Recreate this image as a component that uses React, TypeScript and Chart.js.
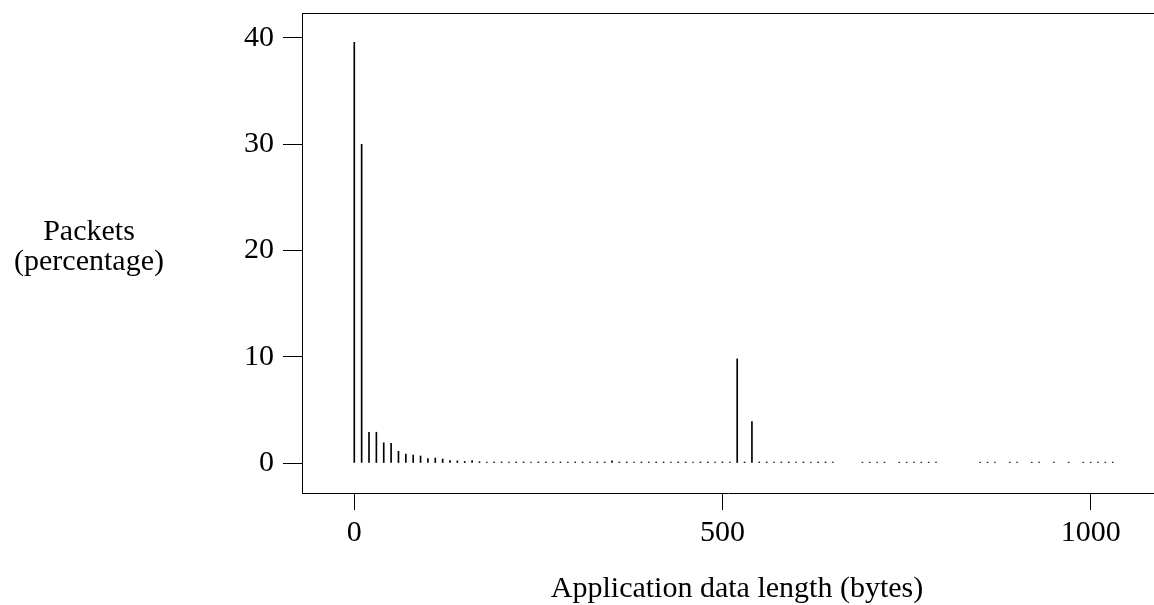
import React, { useEffect, useRef } from "react";
import { Chart, registerables } from "chart.js";

Chart.register(...registerables);

const FONT = "'Liberation Serif', 'Times New Roman', serif";

// Application data length bins (bytes)
const lengths = [
  0, 10, 20, 30, 40, 50, 60, 70, 80, 90,
  100, 110, 120, 130, 140, 150, 160, 170, 180, 190,
  200, 210, 220, 230, 240, 250, 260, 270, 280, 290,
  300, 310, 320, 330, 340, 350, 360, 370, 380, 390,
  400, 410, 420, 430, 440, 450, 460, 470, 480, 490,
  500, 510, 520, 530, 540, 550, 560, 570, 580, 590,
  600, 610, 620, 630, 640, 650,
  690, 700, 710, 720,
  740, 750, 760, 770, 780, 790,
  850, 860, 870,
  890, 900,
  920, 930,
  950,
  970,
  990, 1000, 1010, 1020, 1030,
];

// Packets (percentage)
const percents = [
  39.6, 30.0, 2.9, 2.9, 1.9, 1.85, 1.1, 0.85, 0.75, 0.66,
  0.41, 0.47, 0.38, 0.22, 0.2, 0.15, 0.22, 0.13, 0.1, 0.1,
  0.1, 0.1, 0.1, 0.1, 0.1, 0.1, 0.1, 0.1, 0.1, 0.1,
  0.1, 0.1, 0.1, 0.1, 0.1, 0.2, 0.1, 0.1, 0.1, 0.1,
  0.1, 0.1, 0.1, 0.1, 0.1, 0.1, 0.1, 0.1, 0.1, 0.1,
  0.1, 0.1, 9.8, 0.1, 3.9, 0.1, 0.1, 0.1, 0.1, 0.1,
  0.1, 0.1, 0.1, 0.1, 0.1, 0.1,
  0.08, 0.08, 0.08, 0.08,
  0.08, 0.08, 0.08, 0.08, 0.08, 0.08,
  0.08, 0.08, 0.08,
  0.08, 0.08,
  0.08, 0.08,
  0.08,
  0.08,
  0.08, 0.08, 0.08, 0.08, 0.08,
];

const xTicks = [0, 500, 1000];
const yTicks = [0, 10, 20, 30, 40];

const xTitle = "Application data length (bytes)";
const yTitleLines = ["Packets", "(percentage)"];

const framePlugin = {
  id: "frame",
  afterDraw(chart: any) {
    const { ctx, chartArea } = chart;
    ctx.save();
    ctx.strokeStyle = "#000";
    ctx.lineWidth = 1;
    ctx.beginPath();
    ctx.moveTo(chartArea.left, Math.round(chartArea.top) + 0.5);
    ctx.lineTo(chart.width, Math.round(chartArea.top) + 0.5);
    ctx.stroke();

    ctx.fillStyle = "#000";
    ctx.font = `30px ${FONT}`;
    ctx.textAlign = "center";
    ctx.textBaseline = "alphabetic";
    ctx.fillText(xTitle, 737, 597);
    ctx.fillText(yTitleLines[0], 89, 240);
    ctx.fillText(yTitleLines[1], 89, 270);
    ctx.restore();
  },
};

export default function App() {
  const ref = useRef<HTMLCanvasElement | null>(null);

  useEffect(() => {
    if (!ref.current) return;
    const chart = new Chart(ref.current, {
      type: "bar",
      data: {
        datasets: [
          {
            data: lengths.map((x, i) => ({ x, y: percents[i] })),
            backgroundColor: "#000",
            borderWidth: 0,
            barThickness: 1,
            grouped: false,
          } as any,
        ],
      },
      options: {
        responsive: false,
        animation: false,
        devicePixelRatio: 1,
        layout: { padding: { top: 13, left: 0, right: 0, bottom: 0 } },
        plugins: {
          legend: { display: false },
          tooltip: { enabled: false },
        },
        scales: {
          x: {
            type: "linear",
            offset: false,
            min: -71,
            max: 1086,
            afterBuildTicks: (s: any) => {
              s.ticks = xTicks.map((v) => ({ value: v }));
            },
            afterFit: (s: any) => {
              s.height = 112;
              s.paddingLeft = 0;
              s.paddingRight = 0;
            },
            grid: {
              offset: false,
              drawOnChartArea: false,
              drawTicks: true,
              tickLength: 17,
              tickColor: "#000",
              lineWidth: 1,
            },
            border: { display: true, color: "#000", width: 1 },
            ticks: {
              font: { family: FONT, size: 30 },
              color: "#000",
              padding: 5,
              maxRotation: 0,
              autoSkip: false,
              callback: (v: any) => String(v),
            },
          },
          y: {
            type: "linear",
            min: -2.82,
            max: 42.35,
            afterBuildTicks: (s: any) => {
              s.ticks = yTicks.map((v) => ({ value: v }));
            },
            afterFit: (s: any) => {
              s.width = 302;
              s.paddingTop = 0;
              s.paddingBottom = 0;
            },
            grid: {
              drawOnChartArea: false,
              drawTicks: true,
              tickLength: 19,
              tickColor: "#000",
              lineWidth: 1,
            },
            border: { display: true, color: "#000", width: 1 },
            ticks: {
              font: { family: FONT, size: 30 },
              color: "#000",
              padding: 9,
              autoSkip: false,
              callback: (v: any) => String(v),
            },
          },
        },
      } as any,
      plugins: [framePlugin],
    });
    return () => chart.destroy();
  }, []);

  return (
    <div style={{ position: "absolute", left: 0, top: 0, width: 1154, height: 605, background: "#fff" }}>
      <canvas ref={ref} width={1154} height={605} style={{ display: "block" }} />
    </div>
  );
}
